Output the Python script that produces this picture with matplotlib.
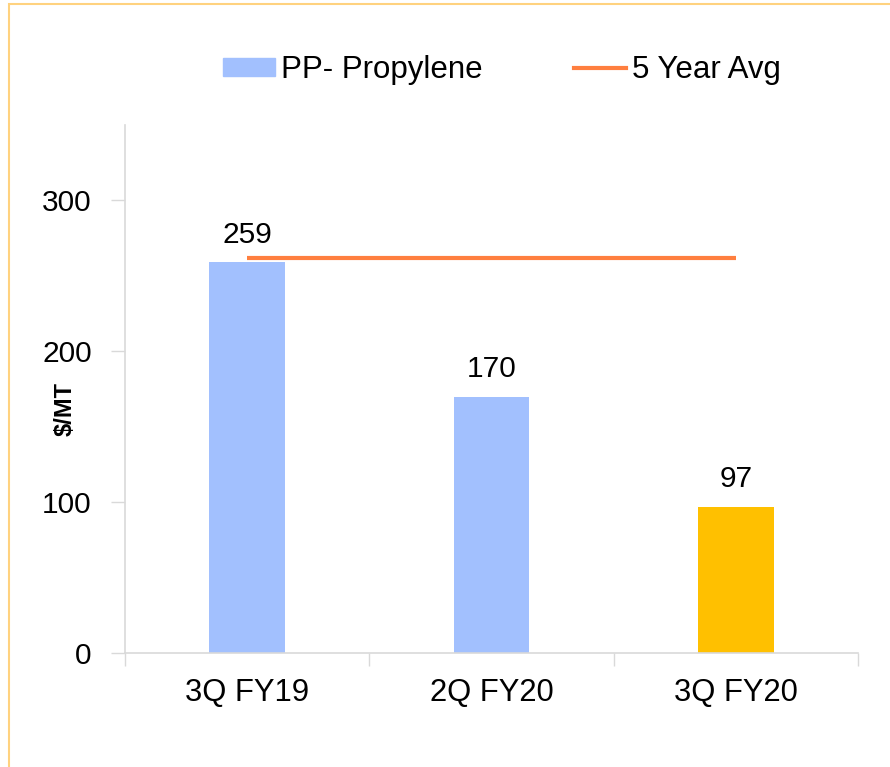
import matplotlib
matplotlib.use("Agg")
import matplotlib.pyplot as plt
from matplotlib.patches import Rectangle, Patch
from matplotlib.lines import Line2D

categories = ["3Q FY19", "2Q FY20", "3Q FY20"]
values = [259, 170, 97]
avg_5yr = [262, 262, 262]
bar_colors = ["#A2C0FE", "#A2C0FE", "#FFC000"]
yticks = [0, 100, 200, 300]

plt.rcParams['font.family'] = ['Liberation Sans', 'DejaVu Sans']

fig = plt.figure(figsize=(8.9, 7.67), dpi=100)
ax = fig.add_axes([125/890, 1-653/767, (858-125)/890, (653-125)/767])

x = list(range(len(categories)))
ax.bar(x, values, width=0.31, color=bar_colors, zorder=2)
ax.plot(x, avg_5yr, color="#FF7F3F", lw=3, solid_capstyle='butt', zorder=3)
for xi, v in zip(x, values):
    ax.text(xi, v + 9, f"{v}", ha="center", va="bottom", fontsize=21.5)

ax.set_xlim(-0.5, 2.5)
ax.set_ylim(0, 350)
ax.set_yticks(yticks)
ax.set_yticklabels([str(t) for t in yticks], fontsize=21.5)
ax.set_xticks(x)
ax.set_xticklabels(categories, fontsize=22.3)
ax.tick_params(axis='x', length=0, pad=18)
ax.tick_params(axis='y', length=10, color="#D9D9D9", width=1, pad=14)
ax.set_xticks([-0.5, 0.5, 1.5, 2.5], minor=True)
ax.tick_params(axis='x', which='minor', length=9, color="#D9D9D9", width=1)

for s in ['top', 'right']:
    ax.spines[s].set_visible(False)
for s in ['left', 'bottom']:
    ax.spines[s].set_color("#D9D9D9")
    ax.spines[s].set_linewidth(1.2)

fig.text(65/890, 1-409/767, "$/MT", rotation=90, ha='center', va='center',
         fontsize=17, fontweight='bold')

handles = [Patch(color="#A2C0FE"), Line2D([0], [0], color="#FF7F3F", lw=3)]
fig.legend(handles, ["PP- Propylene", "5 Year Avg"], loc='center', bbox_to_anchor=(502/890, 1-70/767),
           ncol=2, frameon=False, fontsize=22.5, handlelength=1.66, handleheight=0.51,
           handletextpad=0.19, columnspacing=2.94, borderpad=0, borderaxespad=0)

fig.patches.append(Rectangle((9/890, -0.1), 1.2, 1 - 4/767 + 0.1, transform=fig.transFigure,
                             fill=False, edgecolor="#FFD27F", lw=1.5, zorder=0))

fig.savefig("out.png", dpi=100)
